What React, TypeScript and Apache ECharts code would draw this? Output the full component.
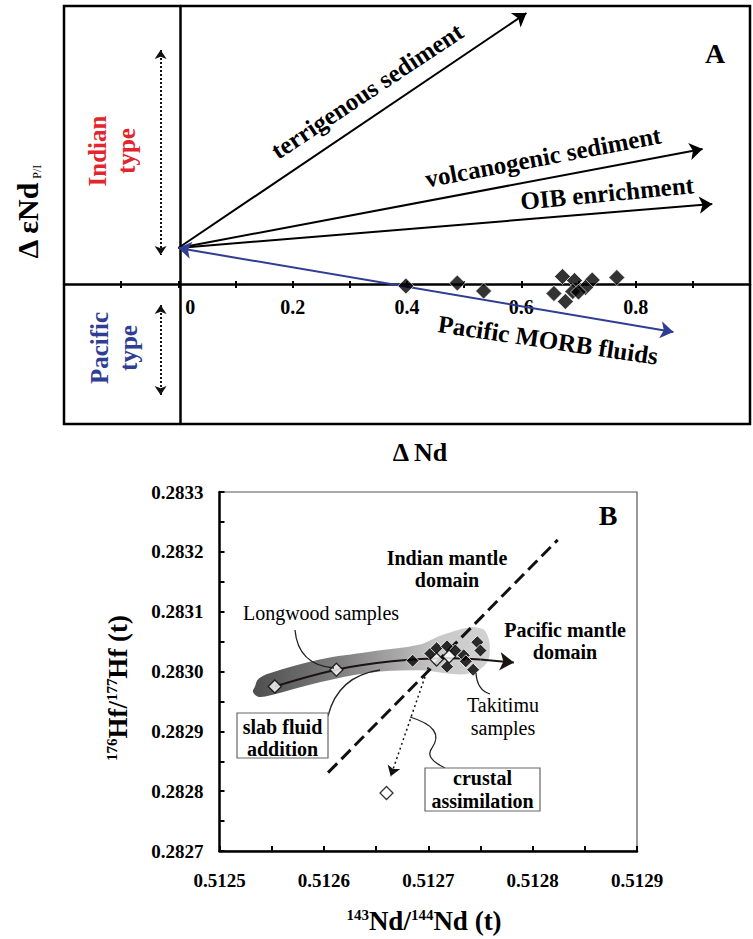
import React, { useEffect, useRef } from 'react';
import * as echarts from 'echarts';

// ---------- Panel A data ----------
const aTickLabels = ['0', '0.2', '0.4', '0.6', '0.8'];
const aSampleDNd = [0.398, 0.488, 0.534, 0.672, 0.693, 0.724, 0.767, 0.657, 0.677, 0.690, 0.712, 0.700];
const aSampleDEps = [-0.02, 0.01, -0.07, 0.075, 0.035, 0.04, 0.065, -0.095, -0.175, -0.075, -0.035, -0.08];
const aVectorOrigin = [0, 0.36];
const aVectorNames = ['terrigenous sediment', 'volcanogenic sediment', 'OIB enrichment', 'Pacific MORB fluids'];
const aVectorEndX = [0.609, 0.917, 0.934, 0.866];
const aVectorEndY = [2.71, 1.35, 0.8, -0.48];
const aIndianRange = [-0.031, 2.34, 0.29];
const aPacificRange = [-0.031, -0.21, -1.11];

// ---------- Panel B data ----------
const bTakitimuNd = [0.512685, 0.512702, 0.512708, 0.512718, 0.512726, 0.512734, 0.512718, 0.512743, 0.512747, 0.51275, 0.512736];
const bTakitimuHf = [0.283018, 0.28303, 0.283039, 0.283042, 0.283035, 0.283027, 0.283008, 0.283003, 0.283049, 0.283035, 0.283017];
const bLongwoodNd = [0.512553, 0.512612, 0.512708, 0.51272, 0.51266];
const bLongwoodHf = [0.282975, 0.283003, 0.28302, 0.283025, 0.282797];
const bTrendNd = [0.512553, 0.512612, 0.512665, 0.51272, 0.51275];
const bTrendHf = [0.282975, 0.283003, 0.283017, 0.283022, 0.28302];
const bTrendArrowEnd = [0.512782, 0.283015];
const bBoundary = [[0.512604, 0.282831], [0.512824, 0.28322]];
const bAssimilation = [[0.5127, 0.283007], [0.512664, 0.282825]];
const bFieldNd = [0.512532, 0.512534, 0.512537, 0.512548, 0.512596, 0.512644, 0.512692, 0.512712, 0.51274, 0.512753, 0.512758, 0.512759, 0.512757, 0.512748, 0.512731, 0.512692, 0.512644, 0.512596, 0.512548, 0.512537];
const bFieldHf = [0.282966, 0.282975, 0.282987, 0.282997, 0.28302, 0.283033, 0.283045, 0.28306, 0.283074, 0.28307, 0.283054, 0.283037, 0.283017, 0.283002, 0.282995, 0.283002, 0.282998, 0.282982, 0.28296, 0.282958];

const serif = "'Liberation Serif','Times New Roman',serif";

function txt(x: number, y: number, text: string, size: number, opts: any = {}) {
  return {
    type: 'text',
    x,
    y,
    rotation: opts.rot || 0,
    z: 100,
    silent: true,
    style: {
      text,
      fontSize: size,
      fontWeight: opts.weight || 'bold',
      fontFamily: serif,
      fill: opts.color || '#000',
      align: 'center',
      verticalAlign: 'middle',
      lineHeight: opts.lh,
      rich: opts.rich,
    },
  };
}

function leader(x1: number, y1: number, cx: number, cy: number, x2: number, y2: number) {
  return {
    type: 'bezierCurve',
    z: 90,
    silent: true,
    shape: { x1, y1, cpx1: cx, cpy1: cy, x2, y2 },
    style: { stroke: '#222', lineWidth: 1.3, fill: 'none' },
  };
}

export default function App() {
  const ref = useRef<HTMLDivElement>(null);
  useEffect(() => {
    if (!ref.current) return;
    const chart = echarts.init(ref.current, undefined, { renderer: 'svg' });
    const black = '#000';
    const blue = '#2f3d93';
    const red = '#e3262d';

    const aLabelFmt = (v: number) => {
      const r = Math.round(v * 10);
      if (r === 0) return '{z|' + aTickLabels[0] + '}';
      const idx = [2, 4, 6, 8].indexOf(r);
      return idx >= 0 ? aTickLabels[idx + 1] : '';
    };

    const option: any = {
      animation: false,
      backgroundColor: '#fff',
      grid: [
        { left: 64, top: 6, right: -7, bottom: 515, show: true, borderColor: black, borderWidth: 2.5 },
        { left: 219.5, top: 492, right: 116, bottom: 88, show: true, borderColor: '#555', borderWidth: 1.2 },
      ],
      xAxis: [
        {
          gridIndex: 0, type: 'value', min: -0.2, max: 1.0, interval: 0.1, position: 'bottom', offset: -140,
          axisLine: { onZero: false, lineStyle: { color: black, width: 2.5 } },
          axisTick: { show: true, inside: false, length: 4, lineStyle: { color: black, width: 2 } },
          axisLabel: {
            formatter: aLabelFmt, color: black, fontSize: 20, fontWeight: 'bold', fontFamily: serif, margin: 13,
            rich: { z: { fontSize: 20, fontWeight: 'bold', fontFamily: serif, color: black, padding: [0, 0, 0, 24] } },
          },
          splitLine: { show: false },
        },
        {
          gridIndex: 0, type: 'value', min: -0.2, max: 1.0, interval: 0.1, position: 'bottom', offset: -140,
          axisLine: { onZero: false, show: false },
          axisTick: { show: true, inside: true, length: 3, lineStyle: { color: black, width: 2 } },
          axisLabel: { show: false },
          splitLine: { show: false },
        },
        {
          gridIndex: 1, type: 'value', min: 0.5125, max: 0.5129, interval: 0.0001,
          axisLine: { onZero: false, lineStyle: { color: black, width: 2.5 } },
          axisTick: { show: true, inside: true, length: 5, lineStyle: { color: black, width: 2 } },
          minorTick: { show: true, splitNumber: 2, length: 5, lineStyle: { color: black, width: 2 } },
          axisLabel: { formatter: (v: number) => v.toFixed(4), color: black, fontSize: 19, fontWeight: 'bold', fontFamily: serif, margin: 20 },
          splitLine: { show: false },
          minorSplitLine: { show: false },
        },
      ],
      yAxis: [
        {
          gridIndex: 0, type: 'value', min: -1.4, max: 2.78, position: 'left', offset: -116,
          axisLine: { onZero: false, lineStyle: { color: black, width: 2.5 } },
          axisTick: { show: false },
          axisLabel: { show: false },
          splitLine: { show: false },
        },
        {
          gridIndex: 1, type: 'value', min: 0.2827, max: 0.2833, interval: 0.0001,
          axisLine: { onZero: false, lineStyle: { color: black, width: 2.5 } },
          axisTick: { show: true, inside: true, length: 5, lineStyle: { color: black, width: 2 } },
          minorTick: { show: true, splitNumber: 2, length: 5, lineStyle: { color: black, width: 2 } },
          axisLabel: { formatter: (v: number) => v.toFixed(4), color: black, fontSize: 19, fontWeight: 'bold', fontFamily: serif, margin: 16 },
          splitLine: { show: false },
          minorSplitLine: { show: false },
        },
      ],
      series: [
        // Panel A vectors
        {
          type: 'lines', coordinateSystem: 'cartesian2d', xAxisIndex: 0, yAxisIndex: 0,
          symbol: ['none', 'arrow'], symbolSize: 13, silent: true, z: 3,
          lineStyle: { color: black, width: 2, opacity: 1, curveness: 0 },
          data: aVectorNames.slice(0, 3).map((n, i) => ({ name: n, coords: [aVectorOrigin, [aVectorEndX[i], aVectorEndY[i]]] })),
        },
        {
          type: 'lines', coordinateSystem: 'cartesian2d', xAxisIndex: 0, yAxisIndex: 0,
          symbol: ['arrow', 'arrow'], symbolSize: 13, silent: true, z: 3,
          lineStyle: { color: blue, width: 2, opacity: 1, curveness: 0 },
          data: [{ name: aVectorNames[3], coords: [aVectorOrigin, [aVectorEndX[3], aVectorEndY[3]]] }],
        },
        {
          type: 'lines', coordinateSystem: 'cartesian2d', xAxisIndex: 0, yAxisIndex: 0,
          symbol: ['arrow', 'arrow'], symbolSize: 9, silent: true, z: 3,
          lineStyle: { color: '#111', width: 2, opacity: 1, type: [2, 2] },
          data: [
            { coords: [[aIndianRange[0], aIndianRange[1]], [aIndianRange[0], aIndianRange[2]]] },
            { coords: [[aPacificRange[0], aPacificRange[1]], [aPacificRange[0], aPacificRange[2]]] },
          ],
        },
        {
          type: 'scatter', xAxisIndex: 0, yAxisIndex: 0, symbol: 'diamond', symbolSize: 16, z: 5,
          itemStyle: { color: black, borderColor: '#fff', borderWidth: 0.8 },
          data: aSampleDNd.map((x, i) => [x, aSampleDEps[i]]),
        },
        // Panel B field
        {
          type: 'custom', xAxisIndex: 2, yAxisIndex: 1, z: 1, silent: true,
          data: [[bFieldNd[0], bFieldHf[0]]],
          renderItem: (params: any, api: any) => {
            const pts = bFieldNd.map((x, i) => api.coord([x, bFieldHf[i]]));
            return {
              type: 'polygon',
              shape: { points: pts, smooth: 0.35 },
              style: {
                fill: new echarts.graphic.LinearGradient(0, 0, 1, 0, [
                  { offset: 0, color: '#4e4e4e' },
                  { offset: 0.35, color: '#7c7c7c' },
                  { offset: 0.62, color: '#aaaaaa' },
                  { offset: 0.78, color: '#c8c8c8' },
                  { offset: 1, color: '#d2d2d2' },
                ]),
                stroke: 'none',
              },
            };
          },
        },
        {
          type: 'lines', coordinateSystem: 'cartesian2d', xAxisIndex: 2, yAxisIndex: 1,
          symbol: ['none', 'none'], silent: true, z: 3,
          lineStyle: { color: '#111', width: 3, opacity: 1, type: [13, 6] },
          data: [{ coords: bBoundary }],
        },
        {
          type: 'line', xAxisIndex: 2, yAxisIndex: 1, smooth: 0.4, showSymbol: false, silent: true, z: 3,
          lineStyle: { color: '#1a1414', width: 2 },
          data: bTrendNd.map((x, i) => [x, bTrendHf[i]]),
        },
        {
          type: 'lines', coordinateSystem: 'cartesian2d', xAxisIndex: 2, yAxisIndex: 1,
          symbol: ['none', 'arrow'], symbolSize: 14, silent: true, z: 3,
          lineStyle: { color: '#1a1414', width: 2, opacity: 1 },
          data: [{ coords: [[bTrendNd[bTrendNd.length - 1], bTrendHf[bTrendHf.length - 1]], bTrendArrowEnd] }],
        },
        {
          type: 'lines', coordinateSystem: 'cartesian2d', xAxisIndex: 2, yAxisIndex: 1,
          symbol: ['none', 'arrow'], symbolSize: 10, silent: true, z: 3,
          lineStyle: { color: '#111', width: 1.5, opacity: 1, type: [2, 3] },
          data: [{ coords: bAssimilation }],
        },
        {
          type: 'scatter', xAxisIndex: 2, yAxisIndex: 1, symbol: 'diamond', symbolSize: 13, z: 5,
          itemStyle: { color: black, borderColor: '#fff', borderWidth: 1 },
          data: bTakitimuNd.map((x, i) => [x, bTakitimuHf[i]]),
        },
        {
          type: 'scatter', xAxisIndex: 2, yAxisIndex: 1, symbol: 'diamond', symbolSize: 13, z: 6,
          itemStyle: { color: '#fff', borderColor: black, borderWidth: 1.3 },
          data: bLongwoodNd.map((x, i) => [x, bLongwoodHf[i]]),
        },
      ],
      graphic: [
        txt(367, 91, aVectorNames[0], 25, { rot: 0.586 }),
        txt(543, 157, aVectorNames[1], 25, { rot: 0.187 }),
        txt(607, 193, aVectorNames[2], 25, { rot: 0.096 }),
        txt(548, 340, aVectorNames[3], 25, { rot: -0.148 }),
        txt(715, 53, 'A', 28),
        txt(112, 151, 'Indian\ntype', 25, { rot: Math.PI / 2, color: red, lh: 29 }),
        txt(114, 348, 'Pacific\ntype', 25, { rot: Math.PI / 2, color: blue, lh: 29 }),
        txt(27, 212, '{a|Δ εNd}{b| P/I}', 30, {
          rot: Math.PI / 2,
          rich: {
            a: { fontSize: 30, fontWeight: 'bold', fontFamily: serif, fill: black, lineHeight: 32 },
            b: { fontSize: 12, fontWeight: 'normal', fontFamily: serif, fill: black, lineHeight: 12, verticalAlign: 'bottom' },
          },
        }),
        txt(420, 452, 'Δ Nd', 26),
        txt(608, 515, 'B', 28),
        txt(447, 569, 'Indian mantle\ndomain', 20, { lh: 22 }),
        txt(565, 641, 'Pacific mantle\ndomain', 20, { lh: 22 }),
        txt(321, 613, 'Longwood samples', 20, { weight: 'normal' }),
        txt(503, 716, 'Takitimu\nsamples', 20, { weight: 'normal', lh: 23 }),
        {
          type: 'rect', z: 95, silent: true,
          shape: { x: 237, y: 713, width: 91, height: 45 },
          style: { fill: '#fff', stroke: '#666', lineWidth: 1.2 },
        },
        txt(282.5, 738, 'slab fluid\naddition', 20, { lh: 22 }),
        {
          type: 'rect', z: 95, silent: true,
          shape: { x: 425, y: 768, width: 115, height: 43 },
          style: { fill: '#fff', stroke: '#666', lineWidth: 1.2 },
        },
        txt(482.5, 789.5, 'crustal\nassimilation', 20, { lh: 23 }),
        leader(295, 630, 298, 665, 334, 668),
        leader(328, 716, 338, 676, 380, 670),
        leader(476, 673, 477, 690, 490, 694),
        leader(410, 717, 446, 728, 432, 748),
        leader(432, 748, 424, 758, 445, 768),
        txt(424, 921, '{s|143}{m|Nd/}{s|144}{m|Nd (t)}', 27, {
          rich: {
            m: { fontSize: 27, fontWeight: 'bold', fontFamily: serif, fill: black, lineHeight: 28 },
            s: { fontSize: 15, fontWeight: 'bold', fontFamily: serif, fill: black, lineHeight: 15, verticalAlign: 'top' },
          },
        }),
        txt(118, 688, '{s|176}{m|Hf/}{s|177}{m|Hf (t)}', 27, {
          rot: Math.PI / 2,
          rich: {
            m: { fontSize: 27, fontWeight: 'bold', fontFamily: serif, fill: black, lineHeight: 28 },
            s: { fontSize: 15, fontWeight: 'bold', fontFamily: serif, fill: black, lineHeight: 15, verticalAlign: 'top' },
          },
        }),
      ],
    };
    chart.setOption(option);
    return () => chart.dispose();
  }, []);
  return (
    <div
      ref={ref}
      style={{ position: 'absolute', left: 0, top: 0, width: 753, height: 939, background: '#fff' }}
    />
  );
}
